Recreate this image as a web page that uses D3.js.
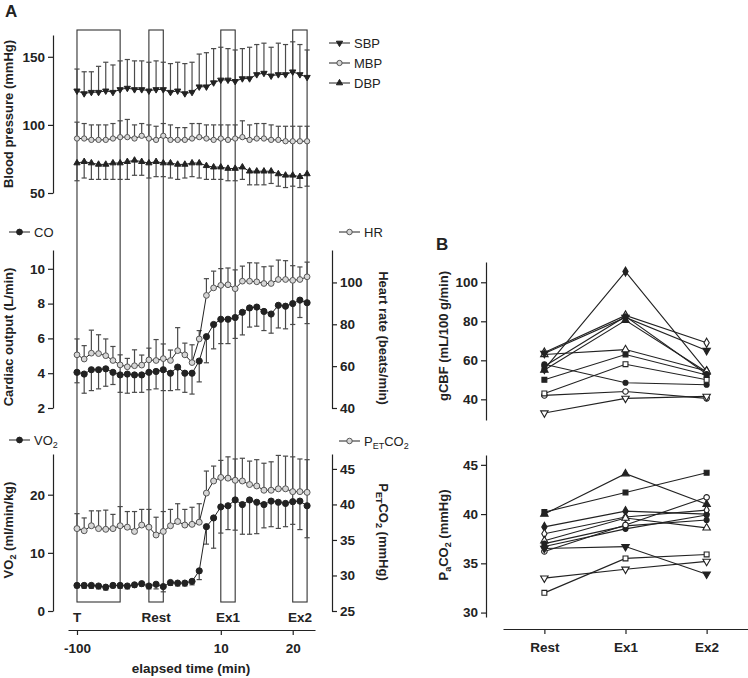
<!DOCTYPE html>
<html>
<head>
<meta charset="utf-8">
<script src="https://cdn.jsdelivr.net/npm/d3@7"></script>
<style>
  body { margin: 0; background: #fff; }
  svg { display: block; }
</style>
</head>
<body>
<div id="chart"></div>
<script>
'use strict';

// ---- data: panel A (one point per minute sample) ----
const sample = [1, 2, 3, 4, 5, 6, 7, 8, 9, 10, 11, 12, 13, 14, 15, 16, 17,
    18, 19, 20, 21, 22, 23, 24, 25, 26, 27, 28, 29, 30, 31, 32, 33];
const timeTicks = [1, 21, 31];
const timeTickLabels = ['-100', '10', '20'];

const periodNames = ['T', 'Rest', 'Ex1', 'Ex2'];
const periodFrom = [1, 11, 21, 31];
const periodTo = [7, 13, 23, 33];

const sbp = [125, 123, 124, 124, 125, 124, 126, 127, 126, 126, 125, 126, 126, 124, 125, 123, 124,
    128, 128, 131, 133, 133, 132, 134, 134, 137, 138, 136, 137, 137, 139, 137, 135];
const sbpSd = [16, 16, 15, 19, 21, 20, 21, 21, 21, 21, 21, 21, 20, 21, 21, 22, 22,
    24, 25, 25, 24, 23, 23, 22, 23, 22, 22, 21, 23, 22, 22, 22, 20];
const mbp = [90, 90, 89, 89, 89, 90, 91, 91, 90, 92, 90, 89, 92, 89, 89, 89, 90,
    91, 90, 89, 90, 89, 90, 91, 89, 90, 90, 89, 89, 88, 88, 88, 88];
const mbpSd = [12, 11, 11, 11, 11, 11, 12, 13, 10, 9, 10, 10, 9, 11, 9, 9, 11,
    10, 10, 11, 10, 11, 10, 12, 11, 11, 11, 11, 10, 11, 11, 11, 11];
const dbp = [72, 73, 72, 71, 71, 72, 72, 73, 74, 73, 72, 73, 72, 72, 71, 71, 72,
    72, 70, 69, 69, 68, 68, 69, 66, 66, 66, 66, 64, 63, 63, 62, 64];
const dbpSd = [13, 12, 12, 11, 11, 12, 12, 13, 11, 10, 11, 11, 10, 11, 11, 10, 10,
    11, 10, 9, 9, 9, 9, 9, 10, 10, 10, 9, 9, 9, 8, 8, 9];

const co = [4.05, 3.95, 4.2, 4.2, 4.25, 4.05, 3.9, 3.95, 3.9, 3.9, 4.05, 4.1, 4.2, 4.0, 4.35, 4.0, 4.0,
    4.7, 6.1, 6.8, 7.1, 7.1, 7.2, 7.5, 7.75, 7.8, 7.55, 7.4, 7.9, 7.85, 8.0, 8.2, 8.05];
const coSd = [0.6, 1.1, 1.2, 1.1, 1.0, 0.7, 1.0, 1.1, 1.0, 1.0, 1.0, 1.0, 1.2, 1.0, 1.3, 1.1, 1.2,
    1.2, 1.5, 1.4, 1.4, 1.4, 1.2, 1.3, 1.1, 1.1, 1.1, 1.1, 1.3, 1.3, 1.2, 1.0, 1.2];
const hr = [65.4, 63.4, 66.2, 66, 65, 62.7, 60.6, 59.7, 60.2, 60.5, 63, 62.7, 63.6, 62.7, 67.4, 65.4, 61.7,
    73, 93.8, 97.4, 98.6, 98.9, 97, 100.6, 100.6, 100.3, 99.5, 99.5, 101.4, 101.4, 101, 101.4, 102.7];
const hrSd = [7.6, 6.4, 11, 9, 8, 6.7, 4.8, 4, 7.6, 4.8, 5.6, 10, 7, 5, 11, 5.6, 8.5,
    4, 8, 8, 8, 8, 9, 7.2, 8.8, 9, 8, 8.3, 9.3, 9, 7, 6, 7];

const vo2 = [4.4, 4.4, 4.4, 4.3, 4.1, 4.4, 4.4, 4.3, 4.5, 4.7, 4.3, 4.6, 4.2, 4.9, 4.8, 4.8, 5.1,
    6.9, 14.5, 16.0, 17.9, 18.1, 19.1, 18.3, 19.1, 18.7, 18.3, 18.9, 18.7, 18.5, 18.8, 18.9, 18.1];
const vo2Sd = [0.4, 0.5, 0.5, 0.5, 0.5, 0.4, 0.5, 0.5, 0.4, 0.4, 0.5, 0.8, 0.9, 0.5, 0.5, 0.5, 0.6,
    1.5, 3.0, 5.2, 4.5, 4.1, 5.2, 5.1, 5.9, 5.4, 4.0, 4.4, 4.5, 4.0, 3.9, 4.9, 5.5];
const petco2 = [36.6, 36.3, 37.0, 36.6, 36.5, 36.6, 37.0, 36.8, 36.2, 37.1, 36.8, 35.7, 36.2, 37.0, 37.6, 37.1, 37.2,
    37.5, 41.6, 43.3, 43.8, 43.7, 43.4, 43.3, 42.8, 42.6, 42.0, 42.0, 42.2, 42.2, 41.8, 41.8, 41.7];
const petco2Sd = [2.1, 1.8, 2.1, 2.5, 2.7, 2.0, 2.7, 2.2, 2.8, 2.2, 2.5, 2.5, 2.8, 2.3, 2.5, 2.2, 2.4,
    2.6, 3.1, 2.1, 2.4, 3.0, 3.0, 3.2, 3.3, 3.7, 3.8, 4.0, 4.7, 4.6, 4.9, 4.6, 4.6];

// ---- data: panel B (one row per subject: Rest, Ex1, Ex2) ----
const conditions = ['Rest', 'Ex1', 'Ex2'];
const gcbf = [
    [55, 80.5, 54], [50, 63, 52.5], [55.5, 105.5, 54.5], [64, 83, 69],
    [63, 65.5, 54.5], [58, 48.5, 47.5], [57, 82.5, 53], [42, 44, 40.5],
    [63.5, 82, 65], [33, 40.5, 41.5], [43, 58, 50]
];
const paco2 = [
    [40.0, 44.1, 41.0], [40.2, 42.2, 44.2], [38.7, 40.3, 40.0], [38.0, 39.7, 40.4],
    [37.3, 39.6, 38.6], [37.0, 38.8, 39.4], [36.7, 38.5, 39.9], [36.2, 38.9, 41.7],
    [36.5, 36.7, 33.9], [33.5, 34.4, 35.2], [32.0, 35.5, 35.9]
];

// marker style per subject
const subjectMarks = [
    ['tri', true], ['square', true], ['diamond', true], ['diamond', false],
    ['tri', false], ['circle', true], ['circle', true], ['circle', false],
    ['triDown', true], ['triDown', false], ['square', false]
];

// ---- setup ----
const font = "'Liberation Sans', Arial, Helvetica, sans-serif";
const ink = '#222';
const barInk = '#4a4a4a';
const openFill = '#d6d6d6';

const svg = d3.select('#chart')
    .append('svg')
    .attr('width', 748)
    .attr('height', 678)
    .style('font-family', font);

const symbolTypes = {
    circle: d3.symbolCircle,
    square: d3.symbolSquare,
    diamond: d3.symbolDiamond,
    tri: d3.symbolTriangle,
    triDown: d3.symbolTriangle
};

const marker = (type, size) => d3.symbol().type(symbolTypes[type]).size(size)();

function styleAxis(g) {
    g.select('.domain').attr('stroke', ink).attr('stroke-width', 1.2);
    g.selectAll('.tick line').attr('stroke', ink).attr('stroke-width', 1.2);
    g.selectAll('.tick text')
        .attr('fill', ink)
        .style('font-family', font)
        .style('font-weight', 'bold')
        .style('font-size', '13.5px');
}

function vAxis(scale, ticks, xPos, side) {
    const axis = (side === 'left' ? d3.axisLeft(scale) : d3.axisRight(scale))
        .tickValues(ticks).tickSize(5).tickSizeOuter(0).tickPadding(3);
    const g = svg.append('g')
        .attr('transform', `translate(${xPos},0)`)
        .call(axis);
    styleAxis(g);
}

// write text parts into a text node; parts = [[text, isSub], ...]
function addParts(t, parts) {
    let shifted = false;
    parts.forEach(([txt, sub]) => {
        const span = t.append('tspan').text(txt);
        if (sub && !shifted) { span.attr('dy', 3).style('font-size', '9px'); shifted = true; }
        else if (sub) { span.style('font-size', '9px'); }
        else if (shifted) { span.attr('dy', -3); shifted = false; }
    });
}

// rotated axis title
function title(parts, xPos, yPos, angle) {
    const t = svg.append('text')
        .attr('transform', `translate(${xPos},${yPos}) rotate(${angle})`)
        .attr('text-anchor', 'middle')
        .attr('fill', ink)
        .style('font-weight', 'bold')
        .style('font-size', '13px');
    addParts(t, parts);
}

// ---- panel A ----
const x = d3.scaleLinear().domain([-0.25, 34.1]).range([68, 315]);

const yBP = d3.scaleLinear().domain([50, 166]).range([193, 35]);
const yCO = d3.scaleLinear().domain([2, 11.08]).range([408, 250]);
const yHR = d3.scaleLinear().domain([40, 115.5]).range([408, 250]);
const yVO = d3.scaleLinear().domain([0, 27]).range([611, 454]);
const yPE = d3.scaleLinear().domain([25, 47.1]).range([611, 454]);

// period boxes
svg.append('g').selectAll('rect')
    .data(periodNames)
    .join('rect')
    .attr('x', (d, i) => x(periodFrom[i]))
    .attr('width', (d, i) => x(periodTo[i]) - x(periodFrom[i]))
    .attr('y', 30)
    .attr('height', 572)
    .attr('fill', 'none')
    .attr('stroke', '#333')
    .attr('stroke-width', 1.1);

svg.append('g').selectAll('text')
    .data(periodNames)
    .join('text')
    .attr('x', (d, i) => i === 0 ? x(periodFrom[i]) - 4 : (x(periodFrom[i]) + x(periodTo[i])) / 2)
    .attr('y', 622)
    .attr('text-anchor', (d, i) => i === 0 ? 'start' : 'middle')
    .attr('fill', ink)
    .style('font-weight', 'bold')
    .style('font-size', '13.5px')
    .text(d => d);

function drawSeries(yScale, vals, sds, dir, type, filled, size) {
    const g = svg.append('g');

    // error bars (one side only)
    const bars = g.selectAll('g.bar')
        .data(vals)
        .join('g')
        .attr('class', 'bar');
    bars.append('line')
        .attr('x1', (d, i) => x(sample[i]))
        .attr('x2', (d, i) => x(sample[i]))
        .attr('y1', d => yScale(d))
        .attr('y2', (d, i) => yScale(d + dir * sds[i]))
        .attr('stroke', barInk)
        .attr('stroke-width', 1.2);
    bars.append('line')
        .attr('x1', (d, i) => x(sample[i]) - 2.6)
        .attr('x2', (d, i) => x(sample[i]) + 2.6)
        .attr('y1', (d, i) => yScale(d + dir * sds[i]))
        .attr('y2', (d, i) => yScale(d + dir * sds[i]))
        .attr('stroke', barInk)
        .attr('stroke-width', 1.2);

    // connecting line
    g.append('path')
        .datum(vals)
        .attr('d', d3.line().x((d, i) => x(sample[i])).y(d => yScale(d)))
        .attr('fill', 'none')
        .attr('stroke', ink)
        .attr('stroke-width', 1);

    // markers
    g.selectAll('path.pt')
        .data(vals)
        .join('path')
        .attr('class', 'pt')
        .attr('transform', (d, i) => `translate(${x(sample[i])},${yScale(d)})${type === 'triDown' ? ' rotate(180)' : ''}`)
        .attr('d', marker(type, size))
        .attr('fill', filled ? ink : openFill)
        .attr('stroke', filled ? ink : '#555')
        .attr('stroke-width', 1);
}

function legendItem(x0, y0, label, type, filled, size) {
    const g = svg.append('g');
    g.append('line')
        .attr('x1', x0).attr('x2', x0 + 21)
        .attr('y1', y0).attr('y2', y0)
        .attr('stroke', ink).attr('stroke-width', 1);
    g.append('path')
        .attr('transform', `translate(${x0 + 10.5},${y0})${type === 'triDown' ? ' rotate(180)' : ''}`)
        .attr('d', marker(type, size))
        .attr('fill', filled ? ink : openFill)
        .attr('stroke', filled ? ink : '#555');
    const t = g.append('text')
        .attr('x', x0 + 25)
        .attr('y', y0 + 4.5)
        .attr('fill', ink)
        .style('font-size', '13px');
    addParts(t, label);
}

// blood pressure
drawSeries(yBP, sbp, sbpSd, 1, 'triDown', true, 17);
drawSeries(yBP, mbp, mbpSd, 1, 'circle', false, 22);
drawSeries(yBP, dbp, dbpSd, -1, 'tri', true, 17);
vAxis(yBP, [50, 100, 150], 53, 'left');
title([['Blood pressure (mmHg)']], 13, 114, -90);
legendItem(329, 43, [['SBP']], 'triDown', true, 17);
legendItem(329, 63, [['MBP']], 'circle', false, 22);
legendItem(329, 83, [['DBP']], 'tri', true, 17);

// cardiac output / heart rate
drawSeries(yHR, hr, hrSd, 1, 'circle', false, 26);
drawSeries(yCO, co, coSd, -1, 'circle', true, 30);
vAxis(yCO, [2, 4, 6, 8, 10], 53, 'left');
vAxis(yHR, [40, 60, 80, 100], 332, 'right');
title([['Cardiac output (L/min)']], 13, 337, -90);
title([['Heart rate (beats/min)']], 379, 338, 90);
legendItem(9, 232, [['CO']], 'circle', true, 26);
legendItem(339, 232, [['HR']], 'circle', false, 24);

// VO2 / PETCO2
drawSeries(yPE, petco2, petco2Sd, 1, 'circle', false, 28);
drawSeries(yVO, vo2, vo2Sd, -1, 'circle', true, 30);
vAxis(yVO, [0, 10, 20], 53, 'left');
vAxis(yPE, [25, 30, 35, 40, 45], 332, 'right');
title([['VO'], ['2', true], [' (ml/min/kg)']], 13, 530, -90);
title([['P'], ['ET', true], ['CO'], ['2', true], [' (mmHg)']], 379, 532, 90);
legendItem(9, 440, [['VO'], ['2', true]], 'circle', true, 26);
legendItem(339, 441, [['P'], ['ET', true], ['CO'], ['2', true]], 'circle', false, 24);

// time axis
const timeAxis = svg.append('g')
    .attr('transform', 'translate(0,630)')
    .call(d3.axisBottom(x)
        .tickValues(timeTicks)
        .tickFormat((d, i) => timeTickLabels[i])
        .tickSize(5).tickSizeOuter(0).tickPadding(8));
styleAxis(timeAxis);

svg.append('text')
    .attr('x', 191)
    .attr('y', 673)
    .attr('text-anchor', 'middle')
    .attr('fill', ink)
    .style('font-weight', 'bold')
    .style('font-size', '13.5px')
    .text('elapsed time (min)');

// ---- panel B ----
const xB = d3.scalePoint().domain(conditions).range([503, 748]).padding(0.51);
const yCBF = d3.scaleLinear().domain([29.4, 110.4]).range([420, 262]);
const yPa = d3.scaleLinear().domain([29.55, 46]).range([617, 455]);

function drawSubjects(yScale, rows) {
    const g = svg.append('g');
    g.selectAll('path.subj')
        .data(rows)
        .join('path')
        .attr('class', 'subj')
        .attr('d', d3.line().x((d, i) => xB(conditions[i])).y(d => yScale(d)))
        .attr('fill', 'none')
        .attr('stroke', ink)
        .attr('stroke-width', 1.1);

    rows.forEach((row, s) => {
        const [type, filled] = subjectMarks[s];
        g.selectAll(null)
            .data(row)
            .join('path')
            .attr('transform', (d, i) => `translate(${xB(conditions[i])},${yScale(d)})${type === 'triDown' ? ' rotate(180)' : ''}`)
            .attr('d', marker(type, type === 'circle' && filled ? 20 : 24))
            .attr('fill', filled ? ink : '#fff')
            .attr('stroke', ink)
            .attr('stroke-width', 1.1);
    });
}

drawSubjects(yCBF, gcbf);
drawSubjects(yPa, paco2);

vAxis(yCBF, [40, 60, 80, 100], 486, 'left');
vAxis(yPa, [30, 35, 40, 45], 486, 'left');
title([['gCBF (mL/100 g/min)']], 448, 336, -90);
title([['P'], ['a', true], ['CO'], ['2', true], [' (mmHg)']], 448, 535, -90);

const condAxis = svg.append('g')
    .attr('transform', 'translate(0,629)')
    .call(d3.axisBottom(xB).tickSize(5).tickSizeOuter(0).tickPadding(8));
styleAxis(condAxis);

// panel letters
svg.append('text').attr('x', 5).attr('y', 17).attr('fill', ink)
    .style('font-weight', 'bold').style('font-size', '17px').text('A');
svg.append('text').attr('x', 436).attr('y', 250).attr('fill', ink)
    .style('font-weight', 'bold').style('font-size', '17px').text('B');
</script>
</body>
</html>
